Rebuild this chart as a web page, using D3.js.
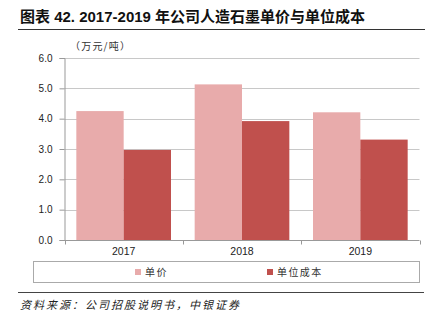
<!DOCTYPE html>
<html>
<head>
<meta charset="utf-8">
<script src="https://cdn.jsdelivr.net/npm/d3@7"></script>
<style>
  html, body { margin: 0; padding: 0; background: #fff; }
  svg { display: block; }
  text { font-family: "Liberation Sans", Arial, "Noto Sans CJK SC", sans-serif; }
</style>
</head>
<body>
<svg id="chart" width="435" height="327"></svg>
<script>
// Annual figures, 万元/吨
const years = ["2017", "2018", "2019"];
const unitPrice = [4.25, 5.13, 4.21];
const unitCost = [2.97, 3.92, 3.31];
const seriesNames = ["单价", "单位成本"];
const seriesColors = ["#E8ABAB", "#C0504D"];
const yTicks = [0, 1, 2, 3, 4, 5, 6];

const svg = d3.select("#chart");
const cjk = "\"Noto Sans CJK SC\", sans-serif";

// Title and rules
svg.append("text")
  .attr("x", 20).attr("y", 22)
  .attr("font-size", 15).attr("font-weight", "bold").attr("fill", "#111")
  .text("图表 42. 2017-2019 年公司人造石墨单价与单位成本");
svg.append("line").attr("x1", 18).attr("x2", 425).attr("y1", 29.5).attr("y2", 29.5)
  .attr("stroke", "#333").attr("stroke-width", 1.2);

svg.append("text")
  .attr("x", 70).attr("y", 50)
  .attr("font-size", 10).attr("fill", "#333").style("font-family", cjk)
  .attr("letter-spacing", 1.2)
  .text("（万元/吨）");

const margin = { left: 64.5, right: 419.5, top: 58, bottom: 240 };

const x0 = d3.scaleBand().domain(years).range([margin.left, margin.right]).paddingInner(0).paddingOuter(0);
const x1 = d3.scaleBand().domain(seriesNames).range([0, x0.bandwidth()]).paddingInner(0).paddingOuter(0.25);
const y = d3.scaleLinear().domain([0, 6]).range([margin.bottom, margin.top]);

// Gridlines
svg.append("g")
  .selectAll("line")
  .data(yTicks.filter(d => d > 0))
  .join("line")
  .attr("x1", margin.left).attr("x2", margin.right)
  .attr("y1", d => Math.round(y(d)) + 0.5).attr("y2", d => Math.round(y(d)) + 0.5)
  .attr("stroke", "#c8c8c8").attr("stroke-width", 1);

// Bars
const rows = years.map((yr, i) => ({ year: yr, values: [unitPrice[i], unitCost[i]] }));
svg.append("g")
  .selectAll("g")
  .data(rows)
  .join("g")
  .attr("transform", d => `translate(${x0(d.year)},0)`)
  .selectAll("rect")
  .data(d => d.values.map((v, j) => ({ key: seriesNames[j], value: v, color: seriesColors[j] })))
  .join("rect")
  .attr("x", d => x1(d.key))
  .attr("width", x1.bandwidth())
  .attr("y", d => y(d.value))
  .attr("height", d => y(0) - y(d.value))
  .attr("fill", d => d.color);

// Y axis
const yAxis = svg.append("g")
  .attr("transform", `translate(${margin.left},0)`)
  .call(d3.axisLeft(y).tickValues(yTicks).tickFormat(d3.format(".1f")).tickSize(5).tickPadding(7));
yAxis.select(".domain").attr("stroke", "#999");
yAxis.selectAll(".tick line").attr("stroke", "#999");
yAxis.selectAll(".tick text").attr("font-size", 10).attr("fill", "#222")
  .style("font-family", "\"Liberation Sans\", Arial, sans-serif");

// X axis with boundary ticks
const xAxis = svg.append("g")
  .attr("transform", `translate(0,${margin.bottom + 0.5})`);
xAxis.append("line").attr("x1", margin.left).attr("x2", margin.right)
  .attr("stroke", "#999");
const bounds = years.map(d => x0(d)).concat([margin.right]);
xAxis.selectAll("line.b").data(bounds).join("line").attr("class", "b")
  .attr("x1", d => Math.round(d) + 0.5).attr("x2", d => Math.round(d) + 0.5)
  .attr("y1", 0).attr("y2", 4).attr("stroke", "#999");
xAxis.selectAll("text").data(years).join("text")
  .attr("x", d => x0(d) + x0.bandwidth() / 2)
  .attr("y", 14)
  .attr("text-anchor", "middle")
  .attr("font-size", 10.5).attr("fill", "#222")
  .text(d => d);

// Legend
svg.append("rect").attr("x", 33.5).attr("y", 261.5).attr("width", 386).attr("height", 21)
  .attr("fill", "none").attr("stroke", "#aaa");
const legendX = [135, 267];
const lg = svg.append("g").selectAll("g").data(seriesNames).join("g")
  .attr("transform", (d, i) => `translate(${legendX[i]},272)`);
lg.append("rect").attr("x", 0).attr("y", -3).attr("width", 6).attr("height", 6)
  .attr("fill", (d, i) => seriesColors[i]);
lg.append("text").attr("x", 10).attr("y", 3.8)
  .attr("font-size", 10).attr("fill", "#333").style("font-family", cjk)
  .attr("letter-spacing", 1.4)
  .text(d => d);

// Source note
svg.append("line").attr("x1", 18).attr("x2", 424).attr("y1", 292.5).attr("y2", 292.5)
  .attr("stroke", "#444").attr("stroke-width", 1);
svg.append("text")
  .attr("x", 20).attr("y", 309)
  .attr("font-size", 11).attr("font-style", "italic").attr("fill", "#222")
  .attr("letter-spacing", 2)
  .style("font-family", cjk)
  .text("资料来源：公司招股说明书，中银证券");
</script>
</body>
</html>
